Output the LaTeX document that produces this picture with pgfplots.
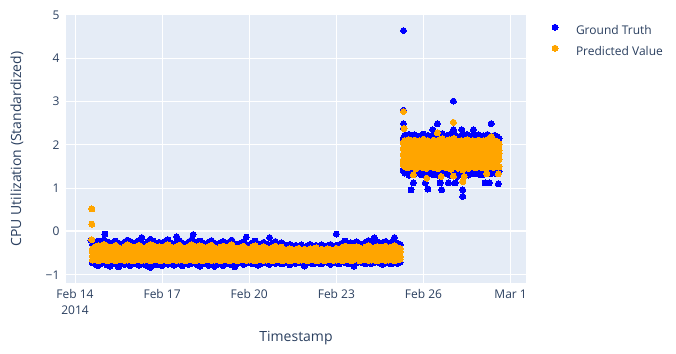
\documentclass[border=0pt]{standalone}
\usepackage{pgfplots}
\pgfplotsset{compat=1.18}
\usepackage{pgfplotstable}
\usepackage{fontspec}
\setmainfont{Open Sans}
\definecolor{bg}{HTML}{E5ECF6}
\definecolor{txt}{HTML}{2A3F5F}
\definecolor{gt}{RGB}{0,0,255}
\definecolor{pv}{HTML}{FFA500}

% Feb 14 2014 00:00 = day 0
\pgfplotstableread{
x bt bb ot o2 o3 ob
0.6 -0.30 -0.72 -0.40 -0.47 -0.57 -0.66
0.7 -0.25 -0.76 -0.35 -0.49 -0.55 -0.63
0.8 -0.22 -0.79 -0.33 -0.46 -0.58 -0.68
0.9 -0.28 -0.74 -0.38 -0.48 -0.56 -0.65
1.0 -0.20 -0.71 -0.30 -0.47 -0.57 -0.64
1.1 -0.24 -0.77 -0.34 -0.49 -0.55 -0.67
1.2 -0.30 -0.80 -0.39 -0.46 -0.58 -0.66
1.3 -0.26 -0.73 -0.36 -0.48 -0.56 -0.63
1.4 -0.22 -0.75 -0.32 -0.47 -0.57 -0.68
1.5 -0.27 -0.78 -0.37 -0.49 -0.55 -0.65
1.6 -0.31 -0.72 -0.41 -0.46 -0.58 -0.64
1.7 -0.25 -0.76 -0.35 -0.48 -0.56 -0.67
1.8 -0.20 -0.74 -0.31 -0.47 -0.57 -0.66
1.9 -0.23 -0.79 -0.34 -0.49 -0.55 -0.63
2.0 -0.29 -0.71 -0.39 -0.46 -0.58 -0.68
2.1 -0.26 -0.75 -0.36 -0.48 -0.56 -0.65
2.2 -0.21 -0.78 -0.32 -0.47 -0.57 -0.64
2.3 -0.27 -0.73 -0.37 -0.49 -0.55 -0.67
2.4 -0.32 -0.76 -0.40 -0.46 -0.58 -0.66
2.5 -0.24 -0.80 -0.34 -0.48 -0.56 -0.63
2.6 -0.18 -0.74 -0.30 -0.47 -0.57 -0.68
2.7 -0.22 -0.71 -0.33 -0.49 -0.55 -0.65
2.8 -0.28 -0.77 -0.38 -0.46 -0.58 -0.64
2.9 -0.25 -0.75 -0.35 -0.48 -0.56 -0.67
3.0 -0.30 -0.79 -0.40 -0.47 -0.57 -0.66
3.1 -0.23 -0.72 -0.34 -0.49 -0.55 -0.63
3.2 -0.19 -0.76 -0.31 -0.46 -0.58 -0.68
3.3 -0.26 -0.74 -0.36 -0.48 -0.56 -0.65
3.4 -0.29 -0.78 -0.39 -0.47 -0.57 -0.64
3.5 -0.24 -0.73 -0.35 -0.49 -0.55 -0.67
3.6 -0.21 -0.75 -0.32 -0.46 -0.58 -0.66
3.7 -0.27 -0.79 -0.37 -0.48 -0.56 -0.63
3.8 -0.31 -0.72 -0.40 -0.47 -0.57 -0.68
3.9 -0.25 -0.76 -0.35 -0.49 -0.55 -0.65
4.0 -0.20 -0.74 -0.31 -0.46 -0.58 -0.64
4.1 -0.24 -0.71 -0.34 -0.48 -0.56 -0.67
4.2 -0.28 -0.77 -0.38 -0.47 -0.57 -0.66
4.3 -0.22 -0.80 -0.33 -0.49 -0.55 -0.63
4.4 -0.26 -0.73 -0.36 -0.46 -0.58 -0.68
4.5 -0.30 -0.75 -0.40 -0.48 -0.56 -0.65
4.6 -0.25 -0.78 -0.35 -0.47 -0.57 -0.64
4.7 -0.21 -0.72 -0.32 -0.49 -0.55 -0.67
4.8 -0.27 -0.74 -0.37 -0.46 -0.58 -0.66
4.9 -0.32 -0.76 -0.41 -0.48 -0.56 -0.63
5.0 -0.26 -0.71 -0.36 -0.47 -0.57 -0.68
5.1 -0.23 -0.79 -0.34 -0.49 -0.55 -0.65
5.2 -0.29 -0.73 -0.39 -0.46 -0.58 -0.64
5.3 -0.25 -0.75 -0.35 -0.48 -0.56 -0.67
5.4 -0.20 -0.77 -0.31 -0.47 -0.57 -0.66
5.5 -0.28 -0.72 -0.38 -0.49 -0.55 -0.63
5.6 -0.31 -0.74 -0.40 -0.46 -0.58 -0.68
5.7 -0.27 -0.70 -0.37 -0.48 -0.56 -0.65
5.8 -0.24 -0.76 -0.34 -0.47 -0.57 -0.64
5.9 -0.30 -0.73 -0.39 -0.49 -0.55 -0.67
6.0 -0.33 -0.71 -0.42 -0.46 -0.58 -0.66
6.1 -0.26 -0.75 -0.36 -0.48 -0.56 -0.63
6.2 -0.22 -0.72 -0.33 -0.47 -0.57 -0.68
6.3 -0.28 -0.78 -0.38 -0.49 -0.55 -0.65
6.4 -0.31 -0.74 -0.41 -0.46 -0.58 -0.64
6.5 -0.25 -0.70 -0.35 -0.48 -0.56 -0.67
6.6 -0.29 -0.73 -0.39 -0.47 -0.57 -0.66
6.7 -0.32 -0.76 -0.41 -0.49 -0.55 -0.63
6.8 -0.27 -0.72 -0.37 -0.46 -0.58 -0.68
6.9 -0.23 -0.74 -0.34 -0.48 -0.56 -0.65
7.0 -0.30 -0.71 -0.40 -0.47 -0.57 -0.64
7.1 -0.26 -0.75 -0.36 -0.49 -0.55 -0.67
7.2 -0.31 -0.73 -0.41 -0.46 -0.58 -0.66
7.3 -0.33 -0.70 -0.43 -0.48 -0.56 -0.63
7.4 -0.30 -0.77 -0.40 -0.47 -0.57 -0.68
7.5 -0.35 -0.72 -0.44 -0.49 -0.55 -0.65
7.6 -0.32 -0.74 -0.42 -0.46 -0.58 -0.64
7.7 -0.34 -0.71 -0.39 -0.48 -0.56 -0.67
7.8 -0.31 -0.73 -0.43 -0.47 -0.57 -0.66
7.9 -0.36 -0.76 -0.41 -0.49 -0.55 -0.63
8.0 -0.33 -0.70 -0.44 -0.46 -0.58 -0.68
8.1 -0.30 -0.72 -0.40 -0.48 -0.56 -0.65
8.2 -0.34 -0.75 -0.42 -0.47 -0.57 -0.64
8.3 -0.32 -0.71 -0.38 -0.49 -0.55 -0.67
8.4 -0.35 -0.73 -0.43 -0.46 -0.58 -0.66
8.5 -0.31 -0.74 -0.41 -0.48 -0.56 -0.63
8.6 -0.34 -0.70 -0.44 -0.47 -0.57 -0.68
8.7 -0.33 -0.72 -0.40 -0.49 -0.55 -0.65
8.8 -0.30 -0.76 -0.42 -0.46 -0.58 -0.64
8.9 -0.35 -0.71 -0.43 -0.48 -0.56 -0.67
9.0 -0.32 -0.73 -0.39 -0.47 -0.57 -0.66
9.1 -0.31 -0.75 -0.41 -0.49 -0.55 -0.63
9.2 -0.27 -0.70 -0.37 -0.46 -0.58 -0.68
9.3 -0.22 -0.72 -0.34 -0.48 -0.56 -0.65
9.4 -0.29 -0.74 -0.39 -0.47 -0.57 -0.64
9.5 -0.26 -0.71 -0.36 -0.49 -0.55 -0.67
9.6 -0.30 -0.77 -0.40 -0.46 -0.58 -0.66
9.7 -0.24 -0.73 -0.35 -0.48 -0.56 -0.63
9.8 -0.28 -0.70 -0.38 -0.47 -0.57 -0.68
9.9 -0.31 -0.72 -0.41 -0.49 -0.55 -0.65
10.0 -0.25 -0.75 -0.36 -0.46 -0.58 -0.64
10.1 -0.21 -0.71 -0.33 -0.48 -0.56 -0.67
10.2 -0.27 -0.74 -0.37 -0.47 -0.57 -0.66
10.3 -0.30 -0.72 -0.40 -0.49 -0.55 -0.63
10.4 -0.24 -0.70 -0.35 -0.46 -0.58 -0.68
10.5 -0.28 -0.73 -0.38 -0.48 -0.56 -0.65
10.6 -0.26 -0.76 -0.36 -0.47 -0.57 -0.64
10.7 -0.23 -0.71 -0.34 -0.49 -0.55 -0.67
10.8 -0.29 -0.73 -0.39 -0.46 -0.58 -0.66
10.9 -0.25 -0.75 -0.36 -0.48 -0.56 -0.63
11.0 -0.22 -0.72 -0.33 -0.47 -0.57 -0.68
11.1 -0.27 -0.74 -0.37 -0.49 -0.55 -0.65
11.2 -0.30 -0.71 -0.40 -0.46 -0.58 -0.64
}\segA

\pgfplotstableread{
x bt bb o1 o2 o3 o4 o5
11.30 2.15 1.42 2.05 1.91 1.78 1.65 1.55
11.35 2.22 1.35 2.10 1.88 1.75 1.62 1.50
11.40 2.10 1.45 2.00 1.93 1.79 1.67 1.58
11.45 2.18 1.38 2.08 1.89 1.76 1.63 1.47
11.50 2.24 1.30 2.12 1.90 1.78 1.65 1.53
11.55 2.12 1.44 2.02 1.91 1.75 1.62 1.60
11.60 2.20 1.36 2.07 1.88 1.79 1.67 1.49
11.65 2.16 1.40 2.04 1.93 1.76 1.63 1.56
11.70 2.23 1.33 2.11 1.89 1.78 1.65 1.52
11.75 2.11 1.46 1.99 1.90 1.75 1.62 1.45
11.80 2.19 1.37 2.06 1.91 1.79 1.67 1.57
11.85 2.14 1.41 2.09 1.88 1.76 1.63 1.51
11.90 2.21 1.32 2.01 1.93 1.78 1.65 1.54
11.95 2.17 1.43 2.08 1.89 1.75 1.62 1.48
12.00 2.25 1.38 2.13 1.90 1.79 1.67 1.59
12.05 2.12 1.29 2.03 1.91 1.76 1.63 1.53
12.10 2.18 1.44 2.07 1.88 1.78 1.65 1.46
12.15 2.22 1.36 2.10 1.93 1.75 1.62 1.55
12.20 2.13 1.40 2.00 1.89 1.79 1.67 1.50
12.25 2.20 1.34 2.06 1.90 1.76 1.63 1.57
12.30 2.16 1.45 2.04 1.91 1.78 1.65 1.52
12.35 2.24 1.31 2.11 1.88 1.75 1.62 1.48
12.40 2.11 1.39 1.98 1.93 1.79 1.67 1.56
12.45 2.19 1.42 2.08 1.89 1.76 1.63 1.51
12.50 2.15 1.35 2.05 1.90 1.78 1.65 1.45
12.55 2.22 1.28 2.12 1.91 1.75 1.62 1.58
12.60 2.14 1.43 2.02 1.88 1.79 1.67 1.53
12.65 2.26 1.37 2.14 1.93 1.76 1.63 1.49
12.70 2.18 1.41 2.07 1.89 1.78 1.65 1.55
12.75 2.12 1.33 2.01 1.90 1.75 1.62 1.50
12.80 2.21 1.44 2.09 1.91 1.79 1.67 1.47
12.85 2.16 1.36 2.04 1.88 1.76 1.63 1.56
12.90 2.23 1.30 2.12 1.93 1.78 1.65 1.52
12.95 2.13 1.40 2.00 1.89 1.75 1.62 1.44
13.00 2.19 1.34 2.07 1.90 1.79 1.67 1.54
13.05 2.25 1.45 2.15 1.91 1.76 1.63 1.49
13.10 2.15 1.38 2.05 1.88 1.78 1.65 1.57
13.15 2.20 1.27 2.09 1.93 1.75 1.62 1.51
13.20 2.12 1.42 2.01 1.89 1.79 1.67 1.46
13.25 2.18 1.36 2.06 1.90 1.76 1.63 1.53
13.30 2.22 1.32 2.10 1.91 1.78 1.65 1.50
13.35 2.14 1.44 2.03 1.88 1.75 1.62 1.42
13.40 2.21 1.39 2.08 1.93 1.79 1.67 1.48
13.45 2.17 1.35 2.05 1.89 1.76 1.63 1.55
13.50 2.24 1.41 2.12 1.90 1.78 1.65 1.51
13.55 2.11 1.30 1.99 1.91 1.75 1.62 1.46
13.60 2.19 1.43 2.07 1.88 1.79 1.67 1.53
13.65 2.15 1.37 2.04 1.93 1.76 1.63 1.49
13.70 2.22 1.40 2.10 1.89 1.78 1.65 1.56
13.75 2.13 1.33 2.02 1.90 1.75 1.62 1.52
13.80 2.20 1.45 2.08 1.91 1.79 1.67 1.47
13.85 2.16 1.38 2.05 1.88 1.76 1.63 1.55
13.90 2.23 1.34 2.11 1.93 1.78 1.65 1.50
13.95 2.12 1.42 2.00 1.89 1.75 1.62 1.53
14.00 2.18 1.36 2.06 1.90 1.79 1.67 1.48
14.05 2.21 1.31 2.09 1.91 1.76 1.63 1.56
14.10 2.14 1.44 2.03 1.88 1.78 1.65 1.51
14.15 2.19 1.39 2.07 1.93 1.75 1.62 1.46
14.20 2.24 1.35 2.12 1.89 1.79 1.67 1.54
14.25 2.15 1.41 2.04 1.90 1.76 1.63 1.50
14.30 2.20 1.33 2.08 1.91 1.78 1.65 1.57
14.35 2.13 1.43 2.01 1.88 1.75 1.62 1.52
14.40 2.18 1.37 2.06 1.93 1.79 1.67 1.48
14.45 2.22 1.40 2.10 1.89 1.76 1.63 1.55
14.50 2.16 1.34 2.04 1.90 1.78 1.65 1.51
14.55 2.19 1.42 2.07 1.91 1.75 1.62 1.53
14.60 2.14 1.38 2.02 1.88 1.79 1.67 1.49
}\segB

\pgfplotstableread{
x y
0.55 -0.20
1.03 -0.06
2.30 -0.14
3.50 -0.12
4.07 -0.07
5.90 -0.13
6.70 -0.14
9.00 -0.06
10.30 -0.15
11.00 -0.14
1.50 -0.82
2.60 -0.83
4.80 -0.81
5.50 -0.82
7.90 -0.80
9.60 -0.80
11.31 4.64
11.31 2.80
11.31 2.49
11.31 2.38
12.32 2.35
12.48 2.49
13.03 3.01
13.03 2.35
13.32 2.35
13.72 2.35
14.33 2.49
11.57 0.96
11.65 1.12
12.06 1.12
12.15 0.98
12.57 1.12
12.63 0.96
12.86 1.12
13.09 1.12
13.35 0.96
13.35 0.81
13.95 1.31
14.12 1.12
14.26 1.12
14.58 1.10
}\gtOut

\pgfplotstableread{
x y
0.58 0.52
0.58 0.17
0.58 -0.19
11.31 2.77
11.33 2.38
12.48 2.28
13.03 2.52
14.33 2.19
11.65 1.31
12.11 1.23
12.61 1.27
13.03 1.28
13.35 1.15
13.40 1.27
14.18 1.33
14.58 1.33
}\pvOut

\begin{document}
\begin{tikzpicture}
\path (0,0) rectangle (676pt,353pt);
\begin{axis}[
  at={(66pt,70pt)}, anchor=south west,
  scale only axis, width=460pt, height=268pt,
  xmin=-0.31, xmax=15.53, ymin=-1.19, ymax=5.0,
  axis background/.style={fill=bg},
  axis line style={draw=none},
  tick style={draw=none}, major tick length=0pt,
  grid=major, grid style={white, line width=1pt},
  xtick={0,3,6,9,12,15},
  xticklabels={{Feb 14\\2014},{Feb 17},{Feb 20},{Feb 23},{Feb 26},{Mar 1}},
  xticklabel style={align=center, font=\fontsize{12}{16}\selectfont, text=txt, yshift=-3pt},
  ytick={-1,0,1,2,3,4,5},
  yticklabels={−1,0,1,2,3,4,5},
  yticklabel style={font=\fontsize{12}{14}\selectfont, text=txt, xshift=-3pt},
  extra y ticks={0}, extra y tick labels={},
  extra y tick style={grid=major, major grid style={white, line width=2pt}},
  xlabel={Timestamp},
  xlabel style={font=\fontsize{14}{16}\selectfont, text=txt, at={(axis description cs:0.5,-0.2052)}, anchor=center},
  ylabel={CPU Utilization (Standardized)},
  ylabel style={font=\fontsize{14}{16}\selectfont, text=txt, at={(axis description cs:-0.1065,0.5)}, anchor=center},
  legend style={at={(axis description cs:1.0565,0.9653)}, anchor=north west,
    draw=none, fill=none, inner sep=0pt, outer sep=0pt, row sep=7.4pt,
    nodes={inner sep=0pt, text height=9pt, text depth=3pt},
    font=\fontsize{12}{14}\selectfont, text=txt,
    /tikz/every odd column/.append style={column sep=18pt}},
  legend cell align=left,
  legend image code/.code={\draw[#1] plot coordinates {(0pt,4.5pt)};},
  gts/.style={only marks, mark=*, mark size=3pt, color=gt, mark options={line width=0pt}},
  pvs/.style={only marks, mark=*, mark size=3pt, color=pv, mark options={line width=0pt}},
]
\addplot[gts] table[x=x,y=bt]{\segA};
\addlegendentry{Ground Truth}
\addplot[gts, forget plot] table[x=x,y=bb]{\segA};
\addplot[gts, forget plot] table[x=x,y=bt]{\segB};
\addplot[gts, forget plot] table[x=x,y=bb]{\segB};
\addplot[gts, forget plot] table[x=x,y=y]{\gtOut};
\addplot[pvs] table[x=x,y=ot]{\segA};
\addlegendentry{Predicted Value}
\addplot[pvs, forget plot] table[x=x,y=o2]{\segA};
\addplot[pvs, forget plot] table[x=x,y=o3]{\segA};
\addplot[pvs, forget plot] table[x=x,y=ob]{\segA};
\addplot[pvs, forget plot] table[x=x,y=o1]{\segB};
\addplot[pvs, forget plot] table[x=x,y=o2]{\segB};
\addplot[pvs, forget plot] table[x=x,y=o3]{\segB};
\addplot[pvs, forget plot] table[x=x,y=o4]{\segB};
\addplot[pvs, forget plot] table[x=x,y=o5]{\segB};
\addplot[pvs, forget plot] table[x=x,y=y]{\pvOut};
\end{axis}
\end{tikzpicture}
\end{document}
